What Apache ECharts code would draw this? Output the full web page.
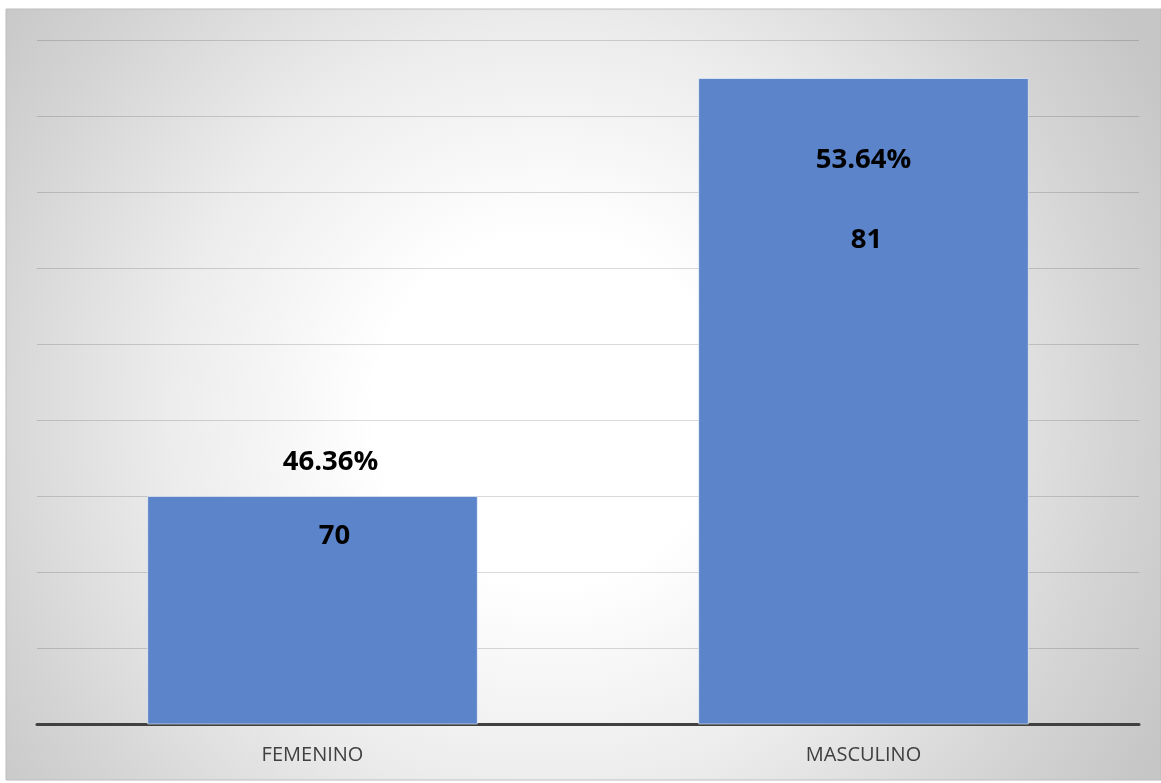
<!DOCTYPE html>
<html>
<head>
<meta charset="utf-8">
<script src="https://cdn.jsdelivr.net/npm/echarts@6/dist/echarts.min.js"></script>
<style>
  html, body { margin: 0; padding: 0; background: #ffffff; }
  #chart { width: 1161px; height: 783px; }
</style>
</head>
<body>
<div id="chart"></div>
<script>
// ---- data ----
const categories = ['FEMENINO', 'MASCULINO'];
const counts = [70, 81];
const percents = ['46.36%', '53.64%'];
const yMin = 64, yMax = 82, yInterval = 2;

// ---- label placement (style, relative to each bar's top-left) ----
const percentLabelY = [-34, 82];
const countLabelY = [40, 162];
const percentLabelDX = [18, 0];
const countLabelDX = [22, 3];

const labelFont = { fontFamily: 'Open Sans', fontWeight: 'bold', fontSize: 27.5, color: '#000000' };

const countData = counts.map((v, i) => ({
  value: v,
  label: Object.assign({ show: true, position: ['50%', countLabelY[i]], offset: [countLabelDX[i], 0], align: 'center', verticalAlign: 'middle', formatter: String(v) }, labelFont)
}));
const percentData = counts.map((v, i) => ({
  value: v,
  label: Object.assign({ show: true, position: ['50%', percentLabelY[i]], offset: [percentLabelDX[i], 0], align: 'center', verticalAlign: 'middle', formatter: percents[i] }, labelFont)
}));

const chart = echarts.init(document.getElementById('chart'), null, { renderer: 'canvas' });
chart.setOption({
  animation: false,
  backgroundColor: '#ffffff',
  graphic: [{
    type: 'rect',
    z: -10,
    silent: true,
    shape: { x: 6, y: 9, width: 1155, height: 771 },
    style: {
      fill: new echarts.graphic.RadialGradient(0.47, 0.52, 0.9, [
        { offset: 0, color: '#ffffff' },
        { offset: 0.25, color: '#ffffff' },
        { offset: 0.55, color: '#ececec' },
        { offset: 0.82, color: '#d4d4d4' },
        { offset: 1, color: '#c6c6c6' }
      ]),
      stroke: '#bdbdbd',
      lineWidth: 1
    }
  }],
  grid: { left: 37, right: 22, top: 40, bottom: 59, containLabel: false },
  xAxis: {
    type: 'category',
    data: categories,
    axisLine: { show: true, lineStyle: { color: '#404040', width: 3 } },
    axisTick: { show: false },
    axisLabel: { color: '#404040', fontFamily: 'Open Sans', fontSize: 20, margin: 21 },
    splitLine: { show: false }
  },
  yAxis: {
    type: 'value',
    min: yMin, max: yMax, interval: yInterval,
    axisLine: { show: false },
    axisTick: { show: false },
    axisLabel: { show: false },
    splitLine: { show: true, lineStyle: { color: 'rgba(0,0,0,0.15)', width: 1 } }
  },
  series: [
    {
      name: 'Cantidad',
      type: 'bar',
      barWidth: '60%',
      data: countData,
      itemStyle: { color: '#5b84cb', borderColor: 'rgba(255,255,255,0.55)', borderWidth: 1 },
      z: 2
    },
    {
      name: 'Porcentaje',
      type: 'bar',
      barWidth: '60%',
      barGap: '-100%',
      data: percentData,
      itemStyle: { color: 'rgba(0,0,0,0)' },
      silent: true,
      z: 3
    }
  ]
});
</script>
</body>
</html>
